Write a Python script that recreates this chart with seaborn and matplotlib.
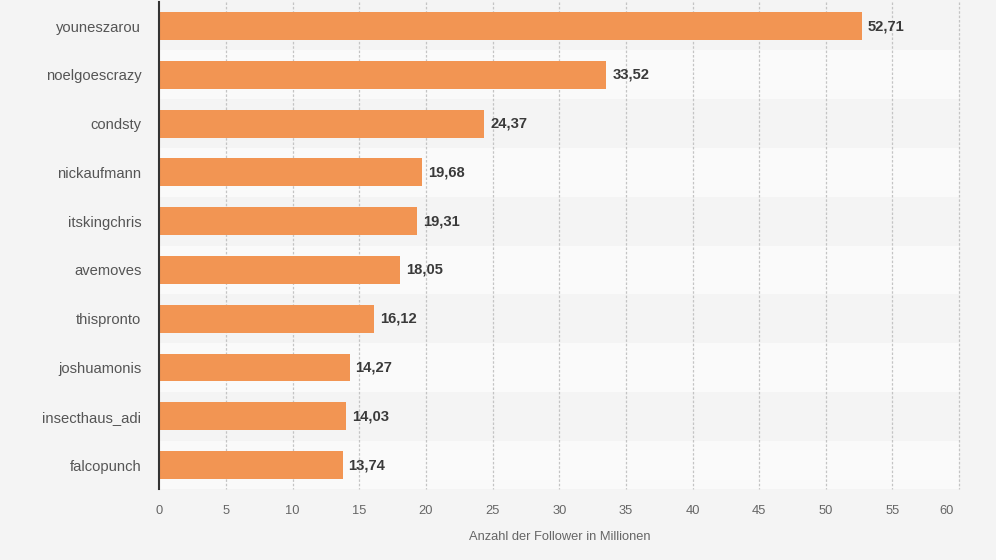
import numpy as np
import pandas as pd
import matplotlib
matplotlib.use("Agg")
import matplotlib.pyplot as plt
import matplotlib.transforms as mtransforms
import seaborn as sns

# data
accounts = ['youneszarou', 'noelgoescrazy', 'condsty', 'nickaufmann', 'itskingchris',
            'avemoves', 'thispronto', 'joshuamonis', 'insecthaus_adi', 'falcopunch']
followers = [52.71, 33.52, 24.37, 19.68, 19.31, 18.05, 16.12, 14.27, 14.03, 13.74]
x_ticks = [0, 5, 10, 15, 20, 25, 30, 35, 40, 45, 50, 55, 60]
x_label = 'Anzahl der Follower in Millionen'

bg = '#f4f4f4'
band_light = '#fafafa'
bar_color = '#f29553'

sns.set_theme(style='white')
plt.rcParams['font.family'] = ['Liberation Sans', 'DejaVu Sans']

df = pd.DataFrame({'account': accounts, 'followers': followers})

fig = plt.figure(figsize=(9.96, 5.6), dpi=100, facecolor=bg)
ax = fig.add_axes([0.16, 0.126, 0.803, 0.871])
ax.set_facecolor(bg)

sns.barplot(data=df, x='followers', y='account', orient='h', color=bar_color,
            saturation=1, width=0.57, linewidth=0, ax=ax, zorder=3)

# alternating row bands (behind everything else)
for i in range(len(accounts)):
    if i % 2 == 1:
        ax.axhspan(i - 0.5, i + 0.5, facecolor=band_light, edgecolor='none', zorder=0.2)

# dotted grid, above the bands but below the bars
for t in x_ticks[1:]:
    ax.plot([t, t], [-0.5, len(accounts) - 0.5], color='#c4c4c4', lw=0.9,
            ls=(0, (2, 1.5)), zorder=2.5, clip_on=False)

for i, v in enumerate(followers):
    ax.text(v + 0.45, i, f'{v:.2f}'.replace('.', ','), va='center', ha='left',
            fontsize=10.6, fontweight='bold', color='#3a3a3a', zorder=4)

ax.set_xlim(0, 60)
ax.set_ylim(len(accounts) - 0.5, -0.5)
ax.set_xticks(x_ticks)
ax.set_xticklabels([str(t) for t in x_ticks], fontsize=9.3, color='#666666')
ax.tick_params(axis='x', length=0, pad=11)
ax.tick_params(axis='y', length=0, pad=13, labelsize=10.6, labelcolor='#555555')
last = ax.get_xticklabels()[-1]
last.set_horizontalalignment('right')
last.set_transform(last.get_transform() + mtransforms.ScaledTranslation(-5 / 100, 0, fig.dpi_scale_trans))

ax.set_xlabel(x_label, fontsize=9.3, color='#666666', labelpad=10)
ax.set_ylabel('')
for s in ['top', 'right', 'bottom']:
    ax.spines[s].set_visible(False)
ax.spines['left'].set_color('#333333')
ax.spines['left'].set_linewidth(1.5)
ax.spines['left'].set_zorder(5)

fig.savefig('out.png', dpi=100, facecolor=bg)
